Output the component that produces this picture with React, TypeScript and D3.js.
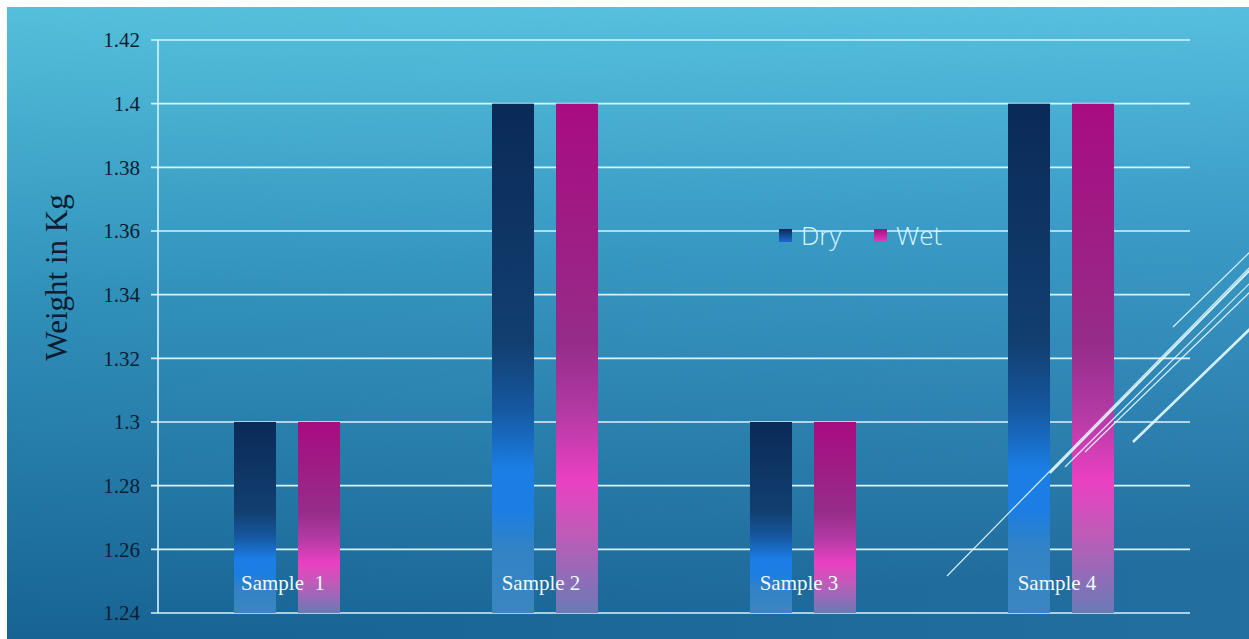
import React from "react";
import * as d3 from "d3";

const categories = ["Sample  1", "Sample 2", "Sample 3", "Sample 4"];
const seriesNames = ["Dry", "Wet"];
const dryValues = [1.3, 1.4, 1.3, 1.4];
const wetValues = [1.3, 1.4, 1.3, 1.4];
const yTicks = [1.24, 1.26, 1.28, 1.3, 1.32, 1.34, 1.36, 1.38, 1.4, 1.42];
const yLabel = "Weight in Kg";

const W = 1249;
const H = 639;
const plot = { left: 158, right: 1190, top: 40, bottom: 613 };

const decoLines = [
  { x1: 947, y1: 576, x2: 1252, y2: 265, w: 1.2 },
  { x1: 1050, y1: 473, x2: 1252, y2: 268, w: 2.2 },
  { x1: 1065, y1: 467, x2: 1252, y2: 281, w: 1.2 },
  { x1: 1085, y1: 452, x2: 1252, y2: 290, w: 1.2 },
  { x1: 1133, y1: 442, x2: 1252, y2: 327, w: 2.6 },
  { x1: 1173, y1: 327, x2: 1252, y2: 250, w: 1.2 },
];

export default function App() {
  const y = d3.scaleLinear().domain([1.24, 1.42]).range([plot.bottom, plot.top]);
  const x0 = d3.scaleBand().domain(categories).range([plot.left, plot.right]).padding(0);
  const bw = x0.bandwidth();
  const barW = 42;
  const gap = 22;
  const series = [dryValues, wetValues];
  const fmt = (v: number) => String(+v.toFixed(2));

  return (
    <div style={{ position: "absolute", left: 0, top: 0 }}>
      <svg width={W} height={H} style={{ display: "block" }}>
        <defs>
          <linearGradient id="bg" x1="0" y1="0" x2="0.15" y2="1">
            <stop offset="0" stopColor="#5acce8" />
            <stop offset="0.45" stopColor="#3399c6" />
            <stop offset="1" stopColor="#17679b" />
          </linearGradient>
          <linearGradient id="bgH" x1="0" y1="0" x2="1" y2="0">
            <stop offset="0" stopColor="#000" stopOpacity="0.06" />
            <stop offset="1" stopColor="#fff" stopOpacity="0.05" />
          </linearGradient>
          <linearGradient id="g0" x1="0" y1="0" x2="0" y2="1">
            <stop offset="0" stopColor="#0a2a58" />
            <stop offset="0.47" stopColor="#123f70" />
            <stop offset="0.6" stopColor="#1558a0" />
            <stop offset="0.72" stopColor="#1b7ee6" />
            <stop offset="0.8" stopColor="#1c7ee2" />
            <stop offset="0.87" stopColor="#3282c6" />
            <stop offset="1" stopColor="#3a86c0" />
          </linearGradient>
          <linearGradient id="g1" x1="0" y1="0" x2="0" y2="1">
            <stop offset="0" stopColor="#a80c80" />
            <stop offset="0.47" stopColor="#962c8a" />
            <stop offset="0.6" stopColor="#b03aa2" />
            <stop offset="0.74" stopColor="#ea40c2" />
            <stop offset="0.84" stopColor="#c25ab8" />
            <stop offset="1" stopColor="#6a7ab6" />
          </linearGradient>
          <linearGradient id="l0" x1="0" y1="0" x2="0" y2="1">
            <stop offset="0" stopColor="#0a2a58" />
            <stop offset="1" stopColor="#1b6ad0" />
          </linearGradient>
          <linearGradient id="l1" x1="0" y1="0" x2="0" y2="1">
            <stop offset="0" stopColor="#a80c80" />
            <stop offset="1" stopColor="#e040c0" />
          </linearGradient>
        </defs>
        <rect x={0} y={0} width={W} height={H} fill="#ffffff" />
        <rect x={7} y={7} width={W - 7} height={H - 7} fill="url(#bg)" />
        <rect x={7} y={7} width={W - 7} height={H - 7} fill="url(#bgH)" />

        {yTicks.map((t) => (
          <g key={t}>
            <line x1={plot.left - 7} x2={plot.right} y1={y(t)} y2={y(t)} stroke="#d4f4fc" strokeWidth={1.6} />
            <text
              x={140}
              y={y(t)}
              dy="0.35em"
              textAnchor="end"
              fontFamily="'Liberation Serif', 'Times New Roman', serif"
              fontSize={21}
              fill="#0b1f33"
            >
              {fmt(t)}
            </text>
          </g>
        ))}
        <line x1={plot.left} x2={plot.left} y1={plot.top} y2={plot.bottom} stroke="#d4f4fc" strokeWidth={1.6} />

        {categories.map((c, i) => {
          const cx = (x0(c) as number) + bw / 2;
          return (
            <g key={c}>
              {series.map((vals, s) => {
                const bx = s === 0 ? cx - gap / 2 - barW : cx + gap / 2;
                return (
                  <rect
                    key={s}
                    x={bx}
                    y={y(vals[i])}
                    width={barW}
                    height={plot.bottom - y(vals[i])}
                    fill={`url(#g${s})`}
                  />
                );
              })}
              <text
                x={cx - 4}
                y={590}
                textAnchor="middle"
                fontFamily="'Liberation Serif', 'Times New Roman', serif"
                fontSize={21}
                fill="#eefaff"
                style={{ whiteSpace: "pre" }}
              >
                {c}
              </text>
            </g>
          );
        })}

        {seriesNames.map((n, s) => {
          const lx = 779 + s * 95;
          return (
            <g key={n}>
              <rect x={lx} y={229} width={13} height={13} fill={`url(#l${s})`} />
              <text
                x={lx + 22}
                y={245}
                fontFamily="'Open Sans', 'DejaVu Sans', sans-serif"
                fontWeight={300}
                fontSize={26}
                fill="#d8f4ff"
              >
                {n}
              </text>
            </g>
          );
        })}

        <text
          transform={`translate(67, ${(plot.top + plot.bottom) / 2 - 49}) rotate(-90)`}
          textAnchor="middle"
          fontFamily="'Liberation Serif', 'Times New Roman', serif"
          fontSize={31}
          fill="#0a1e30"
        >
          {yLabel}
        </text>

        {decoLines.map((l, k) => (
          <line key={k} x1={l.x1} y1={l.y1} x2={l.x2} y2={l.y2} stroke="#e4fbff" strokeWidth={l.w} strokeOpacity={0.9} />
        ))}
      </svg>
    </div>
  );
}
